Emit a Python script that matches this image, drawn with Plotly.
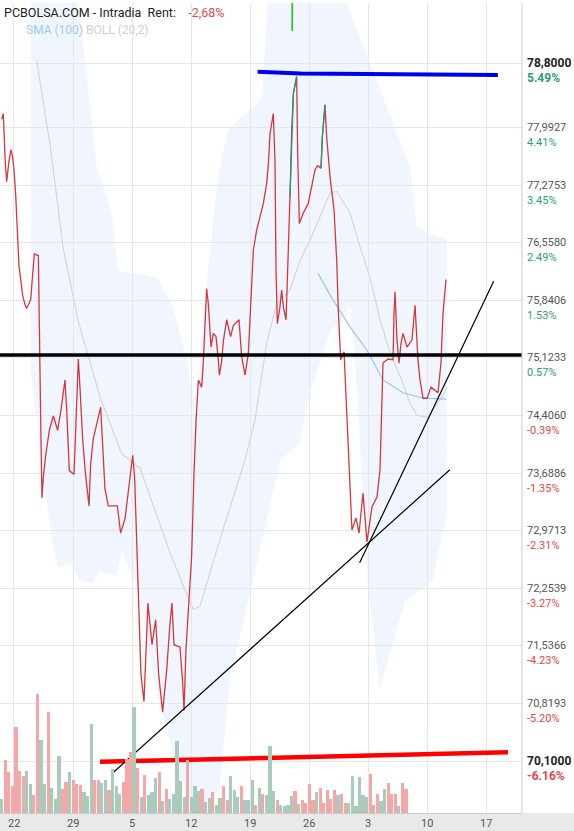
import numpy as np
import plotly.graph_objects as go

# price line (day offset from the 22nd, price)
px_day = [-1.46, -1.27, -1.03, -0.87, -0.59, -0.36, -0.16, 0.00, 0.20, 0.32, 0.43, 0.59, 0.79, 1.03, 1.30, 1.50,
          1.98, 2.17, 2.41, 2.89, 2.97, 3.08, 3.20, 3.32, 3.48, 3.76, 4.19, 4.67, 5.18, 5.58, 6.05, 6.25, 6.56,
          7.12, 7.35, 7.63, 7.83, 8.14, 8.46, 8.70, 8.90, 9.09, 9.41, 9.88, 10.28, 10.79, 11.19, 12.26, 12.65,
          13.17, 13.56, 14.08, 14.31, 14.55, 14.71, 14.87, 15.06, 15.42, 15.66, 15.89, 16.13, 16.37, 16.80,
          17.16, 17.63, 18.11, 18.50, 18.74, 18.98, 19.69, 20.01, 20.17, 20.40, 20.80, 21.07, 21.35, 21.59,
          21.87, 22.26, 22.46, 22.66, 22.85, 23.05, 23.25, 23.37, 23.65, 23.96, 24.24, 24.36, 24.63, 24.83,
          25.23, 25.54, 25.70, 26.02, 26.69, 27.01, 27.40, 27.80, 27.99, 28.19, 28.39, 28.79, 29.18, 29.58,
          29.97, 30.17, 30.37, 30.76, 30.96, 31.08, 31.24, 31.55, 31.75, 31.95, 32.27, 32.46, 32.66, 32.74,
          32.94, 33.14, 33.53, 33.65, 33.85, 34.32, 34.91, 35.31, 35.71, 36.02, 36.42, 36.58, 36.89, 37.09,
          37.49, 37.96, 38.28, 38.47, 38.75, 39.15, 39.38, 39.62, 39.86, 40.09, 40.57, 40.93, 41.40, 41.87,
          42.47, 43.06, 43.42, 43.65, 43.77, 44.37, 44.96, 45.08, 45.20, 45.43, 45.67, 45.91, 46.14, 46.62,
          47.21, 47.57, 47.81, 47.92, 48.16, 48.52, 48.99, 49.47, 50.30, 50.65, 50.89, 51.25]
price = [78.10, 78.17, 77.55, 77.32, 77.58, 77.72, 77.63, 77.47, 77.16, 76.87, 76.58, 76.27, 76.11, 75.90, 75.79, 75.74,
         75.85, 76.14, 76.42, 76.40, 75.64, 74.90, 74.12, 73.38, 73.64, 73.91, 74.22, 74.40, 74.22, 74.48, 74.85, 74.48, 73.72,
         73.67, 74.38, 75.11, 74.75, 74.12, 73.70, 73.46, 73.28, 73.80, 74.12, 74.33, 74.51, 73.49, 73.28, 73.28, 72.94,
         73.12, 73.49, 73.91, 73.64, 72.88, 72.31, 71.75, 71.18, 70.84, 71.49, 72.07, 71.81, 71.55, 71.86,
         71.18, 70.71, 71.23, 71.81, 72.07, 71.55, 71.52, 71.07, 70.73, 71.49, 72.12, 72.65, 73.67, 74.33,
         74.85, 74.76, 75.08, 75.68, 75.99, 75.80, 75.43, 75.26, 75.43, 75.39, 75.10, 74.91, 75.08, 75.33,
         75.60, 75.43, 75.39, 75.53, 75.60, 75.14, 74.91, 75.18, 75.64, 75.91, 76.47, 76.72, 76.88, 77.05,
         77.30, 77.53, 77.92, 78.17, 77.59, 76.22, 75.55, 75.76, 75.97, 75.76, 75.60, 76.14, 76.76, 77.13,
         77.96, 78.42, 78.63, 77.67, 76.80, 76.93, 77.05, 77.26, 77.47, 77.52, 77.49, 77.88, 78.28, 77.88,
         77.38, 76.97, 76.34, 75.72, 75.10, 75.20, 74.64, 74.01, 73.48, 72.98, 73.13, 72.94, 73.44, 72.83,
         73.27, 73.39, 73.73, 74.44, 75.06, 75.11, 75.10, 75.68, 75.95, 75.35, 75.06, 75.31, 75.43, 75.26,
         75.35, 75.78, 75.38, 75.10, 74.85, 74.62, 74.62, 74.76, 74.69, 75.06, 75.68, 76.10]
green_runs = [(32.74, 33.53), (36.42, 36.89)]

sma_day = [36.06, 37.49, 39.86, 41.87, 43.77, 46.14, 47.81, 49.35, 51.25]
sma = [76.18, 75.91, 75.51, 75.22, 74.85, 74.69, 74.64, 74.62, 74.61]

mid_day = [2.69, 4.27, 5.85, 7.63, 10.20, 12.77, 14.95, 16.92, 18.50, 20.09, 21.27, 22.06, 24.4, 27.40, 28.59,
           29.97, 31.16, 32.74, 33.93, 35.11, 36.69, 37.49, 38.28, 39.86, 41.04, 42.23, 43.42, 44.6, 46.0,
           46.97, 47.8, 49.1, 50.5, 51.4]
mid = [78.84, 77.79, 76.48, 75.58, 74.64, 73.93, 73.75, 73.17, 72.70, 72.28, 71.99, 72.03, 72.85, 73.85, 74.35,
       75.31, 75.80, 75.97, 76.34, 76.59, 76.97, 77.18, 77.20, 76.93, 76.51, 76.13, 75.60, 75.19, 74.85,
       74.56, 74.41, 74.38, 74.60, 74.76]

up_day = [2.0, 7.6, 9.8, 11.7, 12.3, 15.8, 17.0, 18.9, 20.5, 21.7, 22.4, 24.1, 25.3, 26.8, 29.4, 30.1, 39.3, 47.0, 47.8, 49.3, 51.4]
upper = [79.6, 79.6, 77.52, 76.89, 76.21, 76.15, 76.12, 75.74, 75.10, 74.40, 75.58, 77.32, 77.95, 78.11, 78.35, 79.6, 79.6, 77.50, 76.76, 76.67, 76.60]
lo_day = [2.0, 3.1, 4.3, 5.2, 6.6, 7.8, 9.3, 10.2, 12.2, 12.8, 14.9, 16.1, 17.3, 19.1, 20.5, 22.7, 24.4, 25.6,
          31.6, 33.9, 35.1, 37.5, 39.9, 40.7, 41.9, 43.4, 46.4, 49.7, 50.5, 51.4]
lower = [74.95, 73.98, 72.98, 72.51, 72.57, 72.36, 72.31, 72.46, 72.41, 72.72, 72.19, 71.36, 70.84, 70.1, 69.7, 69.45, 69.75, 71.1,
         73.85, 74.06, 74.69, 75.44, 75.76, 74.7, 72.36, 71.0, 72.1, 72.36, 72.77, 73.19]

vol = [43, 158, 123, 80, 258, 126, 110, 126, 88, 53, 356, 218, 88, 303, 75, 43, 170, 73, 93, 123, 98, 86, 83, 63,
       50, 268, 98, 98, 90, 98, 68, 131, 80, 56, 93, 163, 183, 318, 136, 48, 113, 53, 63, 106, 123, 36, 73, 43,
       56, 216, 95, 48, 158, 48, 80, 66, 73, 33, 46, 63, 23, 46, 80, 40, 110, 68, 48, 80, 38, 38, 100, 23, 76,
       56, 53, 200, 66, 40, 23, 20, 23, 50, 66, 28, 40, 30, 86, 40, 63, 76, 30, 68, 43, 68, 53, 58, 30, 30,
       110, 20, 108, 53, 48, 116, 23, 58, 36, 73, 90, 58, 58, 20, 90, 72]
vol_up = "grrrrrrggrrggrgggrrgrrrgggrrggrgggrrrgrgrgggrgrgggggrgggrggrggrrgggrgggrgrgggrggggrgrrrrgrrrrrgrrggggggrrrggrrrgrrgg"
vol_day = np.linspace(-1.46, 46.5, len(vol))

ytick = [78.8, 77.9927, 77.2753, 76.558, 75.8406, 75.1233, 74.406, 73.6886, 72.9713, 72.2539, 71.5366, 70.8193, 70.1]
yticklbl = ["78,8000", "77,9927", "77,2753", "76,5580", "75,8406", "75,1233", "74,4060", "73,6886", "72,9713",
            "72,2539", "71,5366", "70,8193", "70,1000"]
pct = [5.49, 4.41, 3.45, 2.49, 1.53, 0.57, -0.39, -1.35, -2.31, -3.27, -4.23, -5.20, -6.16]
xtick = [0, 7, 14, 21, 28, 35, 42, 49, 56]
xticklbl = ["22", "29", "5", "12", "19", "26", "3", "10", "17"]

YR = [69.452, 79.548]
XR = [-1.66, 60.26]

fig = go.Figure()
fig.add_trace(go.Bar(x=vol_day, y=vol, yaxis="y2", width=0.38,
                     marker_color=["#a9cbbb" if c == "g" else "#f4a7a7" for c in vol_up],
                     marker_line_width=0))
# bollinger band as closed polygon
fig.add_trace(go.Scatter(x=list(up_day) + list(lo_day)[::-1], y=list(upper) + list(lower)[::-1],
                         fill="toself", fillcolor="rgba(225,236,252,0.45)", mode="lines", line=dict(width=0)))
fig.add_trace(go.Scatter(x=mid_day, y=mid, mode="lines", line=dict(color="#d6d6d6", width=1.2)))
fig.add_trace(go.Scatter(x=sma_day, y=sma, mode="lines", line=dict(color="#8ec8f2", width=1.2)))
fig.add_trace(go.Scatter(x=px_day, y=price, mode="lines", line=dict(color="#d4373d", width=1.3)))
for a, b in green_runs:
    seg = [(d, p) for d, p in zip(px_day, price) if a <= d <= b]
    fig.add_trace(go.Scatter(x=[s[0] for s in seg], y=[s[1] for s in seg], mode="lines",
                             line=dict(color="#1e9e6e", width=1.3)))

# drawn lines
fig.add_trace(go.Scatter(x=[XR[0], 60.26], y=[75.16, 75.16], mode="lines", line=dict(color="black", width=3.5)))
fig.add_trace(go.Scatter(x=[28.9, 34.0, 57.4], y=[78.69, 78.67, 78.65], mode="lines", line=dict(color="#0000f0", width=4)))
fig.add_trace(go.Scatter(x=[10.2, 58.6], y=[70.09, 70.21], mode="lines", line=dict(color="#ff0000", width=4.5)))
fig.add_trace(go.Scatter(x=[11.7, 51.7], y=[69.95, 73.73], mode="lines", line=dict(color="black", width=1.2)))
fig.add_trace(go.Scatter(x=[41.0, 56.9], y=[72.57, 76.08], mode="lines", line=dict(color="black", width=1.2)))
fig.add_trace(go.Scatter(x=[33.0, 33.0], y=[79.2, 79.6], mode="lines", line=dict(color="#00d000", width=1.5)))

ann = []
for v, lbl, p in zip(ytick, yticklbl, pct):
    bold = v in (78.8, 70.1)
    pc = "#2e9e6e" if p > 0 else "#e0474c"
    ann.append(dict(x=1.005, xref="paper", y=v, yref="y", xanchor="left", yanchor="middle", showarrow=False,
                    text=f"<b>{lbl}</b>" if bold else lbl,
                    font=dict(size=12 if bold else 11, color="#222" if bold else "#555")))
    ptxt = f"{p:.2f}%"
    ann.append(dict(x=1.005, xref="paper", y=v, yref="y", xanchor="left", yanchor="middle", yshift=-15,
                    showarrow=False, text=f"<b>{ptxt}</b>" if bold else ptxt,
                    font=dict(size=12 if bold else 11, color=pc)))
for d, t in zip(xtick, xticklbl):
    ann.append(dict(x=d, xref="x", y=0, yref="paper", yanchor="top", yshift=-2, showarrow=False,
                    text=t, font=dict(size=11, color="#555")))
ann.append(dict(x=2 / 522, xref="paper", y=1, yref="paper", xanchor="left", yanchor="top", showarrow=False,
                text="PCBOLSA.COM - Intradia  Rent:    <span style='color:#e0474c'>-2,68%</span>",
                font=dict(size=12.5, color="#222")))
ann.append(dict(x=24 / 522, xref="paper", y=0.978, yref="paper", xanchor="left", yanchor="top", showarrow=False,
                text="<span style='color:#9ccbf0'>SMA (100)</span> <span style='color:#d0d0d0'>BOLL (20,2)</span>",
                font=dict(size=12)))

fig.update_layout(
    width=574, height=831, showlegend=False, bargap=0,
    margin=dict(l=0, r=52, t=3, b=18, autoexpand=False),
    paper_bgcolor="white", plot_bgcolor="white",
    font=dict(family="Roboto, Arial", color="#444"),
    xaxis=dict(range=XR, tickvals=xtick, showticklabels=False, showgrid=True, gridcolor="#e6e6e6",
               zeroline=False, ticks="", showline=True, linecolor="#ccc"),
    yaxis=dict(range=YR, tickvals=ytick, showticklabels=False, showgrid=True, gridcolor="#e6e6e6",
               zeroline=False),
    yaxis2=dict(range=[0, 2430], overlaying="y", visible=False),
    annotations=ann,
    shapes=[dict(type="rect", xref="paper", yref="paper", x0=-0.01, x1=1.2, y0=-0.03, y1=0,
                 fillcolor="#e9e9e9", line_width=0, layer="below"),
            dict(type="line", xref="paper", yref="paper", x0=1, x1=1, y0=0, y1=1, line=dict(color="#ccc", width=1))],
)
fig.write_html("out.html", config={"displayModeBar": False},
               post_script="document.body.style.margin='0';document.body.style.overflow='hidden';")
